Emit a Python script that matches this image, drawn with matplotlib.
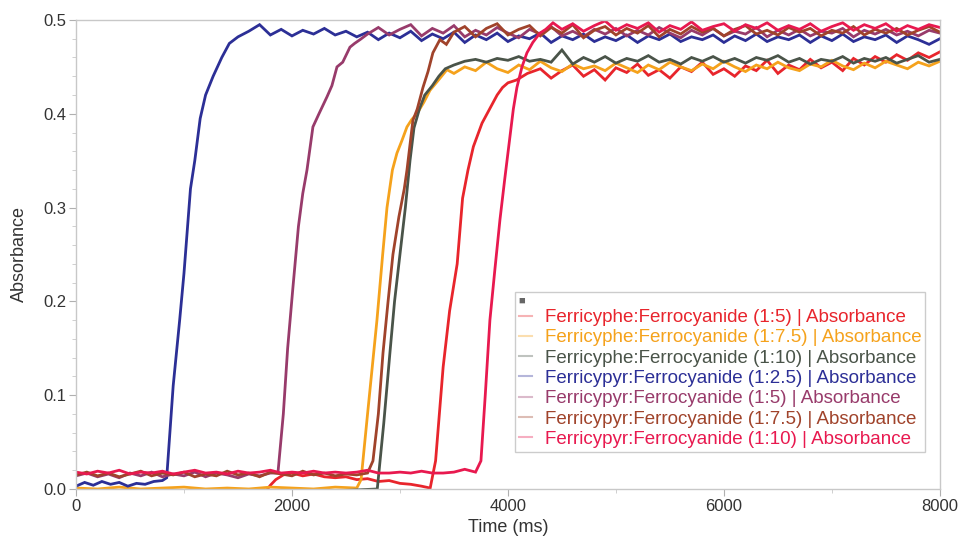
import matplotlib
matplotlib.use("Agg")
import matplotlib.pyplot as plt
from matplotlib.lines import Line2D
from matplotlib.ticker import MultipleLocator, FormatStrFormatter

plt.rcParams['font.family'] = ['Liberation Sans', 'DejaVu Sans']

# ---- data (time in ms, absorbance) ----
# Ferricyphe:Ferrocyanide (1:5)
t_phe5 = ([0, 300, 600, 900, 1200, 1500, 1760, 1800, 1850, 1920]
          + list(range(2000, 3201, 100))
          + [3280, 3330, 3400, 3460, 3530, 3580, 3630, 3680, 3760, 3830,
             3900, 3950, 4000, 4080, 4180]
          + list(range(4300, 8001, 100)))
a_phe5 = [-0.002, -0.002, -0.002, -0.002, -0.002, -0.002, -0.002, 0.004, 0.010, 0.015,
          0.017, 0.014, 0.016, 0.013, 0.012, 0.013, 0.010, 0.011, 0.008, 0.009,
          0.006, 0.005, 0.003,
          0.001, 0.03, 0.13, 0.19, 0.24, 0.31, 0.34, 0.365, 0.39, 0.405,
          0.42, 0.428, 0.433, 0.436, 0.443,
          0.448, 0.438, 0.446, 0.452, 0.440, 0.447, 0.436, 0.449, 0.444, 0.453,
          0.441, 0.447, 0.438, 0.450, 0.445, 0.455, 0.442, 0.448, 0.440, 0.451,
          0.446, 0.457, 0.443, 0.452, 0.447, 0.458, 0.449, 0.455, 0.446, 0.459,
          0.452, 0.461, 0.455, 0.463, 0.457, 0.465, 0.460, 0.466]

# Ferricyphe:Ferrocyanide (1:7.5)
t_phe75 = (list(range(0, 2601, 200))
           + [2640, 2700, 2787, 2840, 2880, 2930, 2972, 3020, 3065, 3110,
              3157, 3220, 3278, 3350, 3435]
           + list(range(3500, 8001, 100)))
a_phe75 = [0.001, 0.0, 0.002, 0.0, 0.001, 0.002, 0.0, 0.001, 0.0, 0.002,
           0.001, 0.0, 0.002, 0.001,
           0.01, 0.08, 0.18, 0.25, 0.30, 0.34, 0.358, 0.372, 0.386, 0.394,
           0.40, 0.412, 0.425, 0.435, 0.447,
           0.443, 0.450, 0.446, 0.455, 0.448, 0.444, 0.452, 0.447, 0.456, 0.449,
           0.445, 0.453, 0.448, 0.451, 0.446, 0.454, 0.449, 0.444, 0.452, 0.447,
           0.455, 0.450, 0.446, 0.453, 0.448, 0.456, 0.450, 0.445, 0.452, 0.448,
           0.455, 0.449, 0.446, 0.453, 0.450, 0.457, 0.451, 0.447, 0.454, 0.449,
           0.456, 0.452, 0.448, 0.455, 0.451, 0.456]

# Ferricyphe:Ferrocyanide (1:10)
t_phe10 = ([0, 400, 800, 1200, 1600, 2000, 2400,
            2790, 2850, 2907, 2950, 3000, 3050, 3093, 3130, 3180, 3230,
            3300, 3360, 3420]
           + list(range(3500, 8001, 100)))
a_phe10 = [-0.002, -0.002, -0.002, -0.002, -0.002, -0.002, -0.002,
           0.0, 0.07, 0.145, 0.20, 0.25, 0.30, 0.35, 0.385, 0.405, 0.42,
           0.43, 0.44, 0.448,
           0.452, 0.456, 0.458, 0.455, 0.459, 0.457, 0.461, 0.456, 0.458, 0.455,
           0.468, 0.453, 0.460, 0.455, 0.461, 0.454, 0.459, 0.456, 0.462, 0.455,
           0.458, 0.453, 0.460, 0.456, 0.461, 0.455, 0.459, 0.454, 0.460, 0.457,
           0.462, 0.455, 0.459, 0.453, 0.458, 0.456, 0.461, 0.454, 0.459, 0.456,
           0.460, 0.454, 0.458, 0.462, 0.455, 0.458]

# Ferricypyr:Ferrocyanide (1:2.5)
t_pyr25 = ([0, 80, 160, 240, 320, 400, 480, 560, 640, 720, 800,
            840, 900, 960, 1000, 1060, 1100, 1150, 1200, 1270, 1350, 1420]
           + list(range(1500, 8001, 100)))
a_pyr25 = [0.003, 0.007, 0.004, 0.008, 0.005, 0.007, 0.003, 0.006, 0.005, 0.008, 0.009,
           0.012, 0.11, 0.18, 0.23, 0.32, 0.35, 0.395, 0.42, 0.44, 0.46, 0.475,
           0.482, 0.488, 0.495, 0.484, 0.490, 0.483, 0.489, 0.485, 0.491, 0.484,
           0.488, 0.482, 0.487, 0.479, 0.486, 0.481, 0.488, 0.478, 0.485, 0.480,
           0.487, 0.476, 0.484, 0.479, 0.486, 0.477, 0.483, 0.480, 0.486, 0.476,
           0.483, 0.479, 0.485, 0.477, 0.482, 0.478, 0.484, 0.476, 0.483, 0.479,
           0.485, 0.477, 0.482, 0.479, 0.484, 0.476, 0.483, 0.478, 0.485, 0.477,
           0.482, 0.479, 0.484, 0.476, 0.483, 0.478, 0.485, 0.477, 0.482, 0.479,
           0.484, 0.476, 0.483, 0.479, 0.474, 0.480]

# Ferricypyr:Ferrocyanide (1:5)
t_pyr5 = (list(range(0, 1801, 100))
          + [1870, 1920, 1960, 2009, 2060, 2100, 2139, 2194, 2250, 2324,
             2370, 2417, 2470, 2537, 2580, 2630]
          + list(range(2700, 8001, 100)))
a_pyr5 = [0.014, 0.017, 0.013, 0.016, 0.012, 0.017, 0.014, 0.018, 0.013, 0.016,
          0.014, 0.018, 0.013, 0.017, 0.015, 0.012, 0.016, 0.014, 0.017,
          0.017, 0.08, 0.15, 0.215, 0.28, 0.315, 0.34, 0.386, 0.40, 0.418,
          0.43, 0.45, 0.455, 0.471, 0.475, 0.479,
          0.485, 0.492, 0.484, 0.490, 0.495, 0.483, 0.491, 0.486, 0.494, 0.482,
          0.489, 0.484, 0.492, 0.486, 0.481, 0.490, 0.485, 0.493, 0.483, 0.488,
          0.482, 0.490, 0.485, 0.491, 0.483, 0.489, 0.484, 0.492, 0.486, 0.481,
          0.489, 0.484, 0.491, 0.483, 0.488, 0.485, 0.492, 0.482, 0.489, 0.484,
          0.490, 0.483, 0.488, 0.486, 0.491, 0.482, 0.489, 0.485, 0.490, 0.484,
          0.488, 0.483, 0.489, 0.486]

# Ferricypyr:Ferrocyanide (1:7.5)
t_pyr75 = (list(range(0, 2701, 100))
           + [2750, 2800, 2843, 2890, 2935, 2990, 3040, 3065, 3120, 3160,
              3213, 3260, 3305, 3370, 3430]
           + list(range(3500, 8001, 100)))
a_pyr75 = [0.015, 0.018, 0.014, 0.017, 0.013, 0.016, 0.019, 0.014, 0.017, 0.015,
           0.018, 0.013, 0.016, 0.014, 0.019, 0.015, 0.017, 0.013, 0.018, 0.016,
           0.014, 0.019, 0.015, 0.017, 0.014, 0.016, 0.015, 0.017,
           0.03, 0.08, 0.145, 0.20, 0.25, 0.29, 0.32, 0.34, 0.393, 0.405,
           0.428, 0.445, 0.465, 0.479, 0.474,
           0.487, 0.493, 0.482, 0.491, 0.496, 0.484, 0.490, 0.494, 0.483, 0.492,
           0.486, 0.495, 0.481, 0.489, 0.493, 0.484, 0.491, 0.486, 0.494, 0.482,
           0.490, 0.485, 0.493, 0.487, 0.491, 0.483, 0.490, 0.494, 0.485, 0.489,
           0.484, 0.492, 0.487, 0.491, 0.483, 0.489, 0.486, 0.493, 0.484, 0.490,
           0.486, 0.491, 0.484, 0.489, 0.493, 0.487]

# Ferricypyr:Ferrocyanide (1:10)
t_pyr10 = (list(range(0, 3701, 100))
           + [3750, 3790, 3833, 3880, 3926, 3970, 4018, 4050, 4083, 4130,
              4176, 4230, 4296, 4350, 4417]
           + list(range(4500, 8001, 100)))
a_pyr10 = [0.018, 0.016, 0.019, 0.017, 0.020, 0.016, 0.018, 0.017, 0.019, 0.016,
           0.018, 0.020, 0.017, 0.018, 0.016, 0.019, 0.017, 0.018, 0.020, 0.017,
           0.018, 0.017, 0.019, 0.017, 0.018, 0.017, 0.018, 0.020, 0.017, 0.017,
           0.018, 0.017, 0.019, 0.017, 0.017, 0.018, 0.021, 0.018,
           0.03, 0.10, 0.18, 0.235, 0.287, 0.33, 0.375, 0.405, 0.428, 0.45,
           0.465, 0.476, 0.486, 0.49, 0.497,
           0.490, 0.496, 0.488, 0.494, 0.499, 0.489, 0.495, 0.491, 0.497, 0.487,
           0.494, 0.490, 0.498, 0.489, 0.493, 0.496, 0.488, 0.495, 0.491, 0.497,
           0.489, 0.494, 0.490, 0.496, 0.488, 0.493, 0.497, 0.489, 0.495, 0.491,
           0.496, 0.488, 0.494, 0.490, 0.495, 0.492]

labels = ["Ferricyphe:Ferrocyanide (1:5) | Absorbance",
          "Ferricyphe:Ferrocyanide (1:7.5) | Absorbance",
          "Ferricyphe:Ferrocyanide (1:10) | Absorbance",
          "Ferricypyr:Ferrocyanide (1:2.5) | Absorbance",
          "Ferricypyr:Ferrocyanide (1:5) | Absorbance",
          "Ferricypyr:Ferrocyanide (1:7.5) | Absorbance",
          "Ferricypyr:Ferrocyanide (1:10) | Absorbance"]
colors = ["#e8252c", "#f5a21c", "#4a5449", "#2c2f96",
          "#983b6b", "#a0432b", "#e8194f"]
series = [(t_phe5, a_phe5), (t_phe75, a_phe75), (t_phe10, a_phe10),
          (t_pyr25, a_pyr25), (t_pyr5, a_pyr5), (t_pyr75, a_pyr75),
          (t_pyr10, a_pyr10)]

fig = plt.figure(figsize=(9.62, 5.37), dpi=100)
ax = fig.add_axes([0.079, 0.0894, 0.898, 0.8734])

for (t, a), c in zip(series, colors):
    ax.plot(t, a, color=c, lw=2.0, solid_joinstyle='miter')

ax.set_xlim(0, 8000)
ax.set_ylim(0, 0.5)
ax.xaxis.set_major_locator(MultipleLocator(2000))
ax.xaxis.set_minor_locator(MultipleLocator(1000))
ax.yaxis.set_major_locator(MultipleLocator(0.1))
ax.yaxis.set_minor_locator(MultipleLocator(0.02))
ax.yaxis.set_major_formatter(FormatStrFormatter('%.1f'))

for s in ax.spines.values():
    s.set_color('#c8c8c8')
    s.set_linewidth(1.0)
ax.tick_params(which='major', direction='out', length=5, color='#b0b0b0',
               labelsize=12, labelcolor='#333333', pad=2)
ax.tick_params(which='minor', direction='out', length=3, color='#c8c8c8')

ax.set_xlabel("Time (ms)", fontsize=13, color='#333333', labelpad=4)
ax.set_ylabel("Absorbance", fontsize=13, color='#333333', labelpad=11)

handles = [Line2D([], [], color=c, lw=1.5, alpha=0.35) for c in colors]
leg = ax.legend(handles, labels, loc='upper left', bbox_to_anchor=(0.508, 0.42),
                fontsize=13.5, labelspacing=0.17, handlelength=0.7,
                handletextpad=0.7, borderpad=0.2, fancybox=False,
                edgecolor='#cccccc', framealpha=1, title='\u25a0',
                title_fontsize=8, alignment='left', borderaxespad=0)
leg.get_title().set_color('#666666')
leg.get_frame().set_linewidth(1.0)
for txt, c in zip(leg.get_texts(), colors):
    txt.set_color(c)

fig.savefig("out.png", dpi=100)
